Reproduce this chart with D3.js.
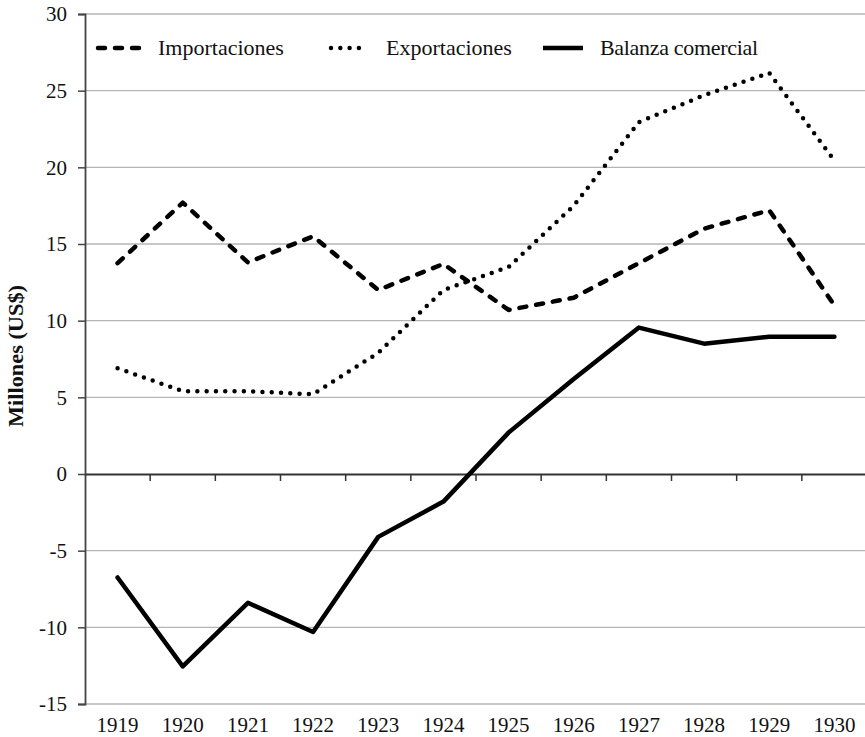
<!DOCTYPE html>
<html>
<head>
<meta charset="utf-8">
<script src="https://cdn.jsdelivr.net/npm/d3@7"></script>
<style>
  body { margin: 0; background: #fff; }
  svg { display: block; }
  text { font-family: "Liberation Serif", "Times New Roman", serif; }
</style>
</head>
<body>
<svg id="chart"></svg>
<script>
// Data
const years = ["1919", "1920", "1921", "1922", "1923", "1924", "1925", "1926", "1927", "1928", "1929", "1930"];
const importaciones = [13.75, 17.7, 13.8, 15.5, 12.0, 13.7, 10.7, 11.5, 13.75, 16.0, 17.2, 11.0];
const exportaciones = [6.9, 5.4, 5.4, 5.2, 7.9, 12.0, 13.5, 17.5, 22.95, 24.7, 26.15, 20.45];
const balanza = [-6.75, -12.55, -8.4, -10.3, -4.1, -1.8, 2.7, 6.2, 9.55, 8.5, 8.95, 8.95];
const yTicks = [-15, -10, -5, 0, 5, 10, 15, 20, 25, 30];

const W = 865, H = 737;
const margin = { top: 14, right: -2, bottom: 33, left: 85 };
const width = W - margin.left - margin.right;
const height = H - margin.top - margin.bottom;
const serif = "Liberation Serif, Times New Roman, serif";

const svg = d3.select("#chart").attr("width", W).attr("height", H);
const g = svg.append("g").attr("transform", `translate(${margin.left},${margin.top})`);

const x = d3.scaleBand().domain(years).range([0, width]);
const y = d3.scaleLinear().domain([-15, 30]).range([height, 0]);

// Gridlines
g.append("g")
    .selectAll("line")
    .data(yTicks.filter(d => d !== 0))
    .enter().append("line")
    .attr("x1", 0).attr("x2", width)
    .attr("y1", d => y(d)).attr("y2", d => y(d))
    .attr("stroke", "#b5b5b5")
    .attr("stroke-width", 1.3);

// Y axis (plain hyphen for negatives, like the original)
const yAxis = g.append("g")
    .call(d3.axisLeft(y).tickValues(yTicks).tickSize(7).tickPadding(11).tickFormat(d => String(d)));
yAxis.select(".domain").attr("stroke", "#444").attr("stroke-width", 1.8);
yAxis.selectAll(".tick line").attr("stroke", "#444").attr("stroke-width", 1.5);
yAxis.selectAll(".tick text")
    .attr("font-size", 21)
    .attr("font-family", serif)
    .attr("fill", "#111");

// Zero line with category ticks
const xAxis = g.append("g").attr("transform", `translate(0,${y(0)})`)
    .call(d3.axisBottom(x).tickSize(0).tickFormat(""));
xAxis.select(".domain").attr("stroke", "#333").attr("stroke-width", 1.8);
g.append("g")
    .selectAll("line")
    .data(years.slice(1))
    .enter().append("line")
    .attr("x1", d => x(d)).attr("x2", d => x(d))
    .attr("y1", y(0)).attr("y2", y(0) + 7)
    .attr("stroke", "#333")
    .attr("stroke-width", 1.5);

// Year labels below the plot
g.append("g")
    .selectAll("text")
    .data(years)
    .enter().append("text")
    .attr("x", d => x(d) + x.bandwidth() / 2)
    .attr("y", height + 28)
    .attr("text-anchor", "middle")
    .attr("font-size", 21)
    .attr("font-family", serif)
    .attr("fill", "#111")
    .text(d => d);

// Y axis title
svg.append("text")
    .attr("transform", "translate(23,356) rotate(-90)")
    .attr("text-anchor", "middle")
    .attr("font-size", 20)
    .attr("font-weight", "bold")
    .attr("font-family", serif)
    .attr("textLength", 142)
    .attr("lengthAdjust", "spacingAndGlyphs")
    .attr("fill", "#111")
    .text("Millones (US$)");

// Series
const series = [
    { name: "Importaciones", values: importaciones, dash: "7,10" },
    { name: "Exportaciones", values: exportaciones, dash: "0,9.3" },
    { name: "Balanza comercial", values: balanza, dash: null }
];

const line = d3.line()
    .x((d, i) => x(years[i]) + x.bandwidth() / 2)
    .y(d => y(d));

series.forEach(s => {
    g.append("path")
        .datum(s.values)
        .attr("d", line)
        .attr("fill", "none")
        .attr("stroke", "#000")
        .attr("stroke-width", 4.5)
        .attr("stroke-linecap", "round")
        .attr("stroke-linejoin", "round")
        .attr("stroke-dasharray", s.dash);
});

// Legend
const legendItems = [
    { s: series[0], x1: 98, x2: 141, tx: 158, len: null },
    { s: series[1], x1: 331, x2: 368, tx: 386, len: null },
    { s: series[2], x1: 543, x2: 583, tx: 600, len: 158 }
];
const legend = svg.append("g");
legendItems.forEach(item => {
    legend.append("line")
        .attr("x1", item.x1).attr("x2", item.x2)
        .attr("y1", 48).attr("y2", 48)
        .attr("stroke", "#000")
        .attr("stroke-width", 4.5)
        .attr("stroke-linecap", item.s.dash ? "round" : "butt")
        .attr("stroke-dasharray", item.s.dash);
    const t = legend.append("text")
        .attr("x", item.tx)
        .attr("y", 55)
        .attr("font-size", 22)
        .attr("font-family", serif)
        .attr("fill", "#111")
        .text(item.s.name);
    if (item.len) t.attr("textLength", item.len).attr("lengthAdjust", "spacing");
});
</script>
</body>
</html>
